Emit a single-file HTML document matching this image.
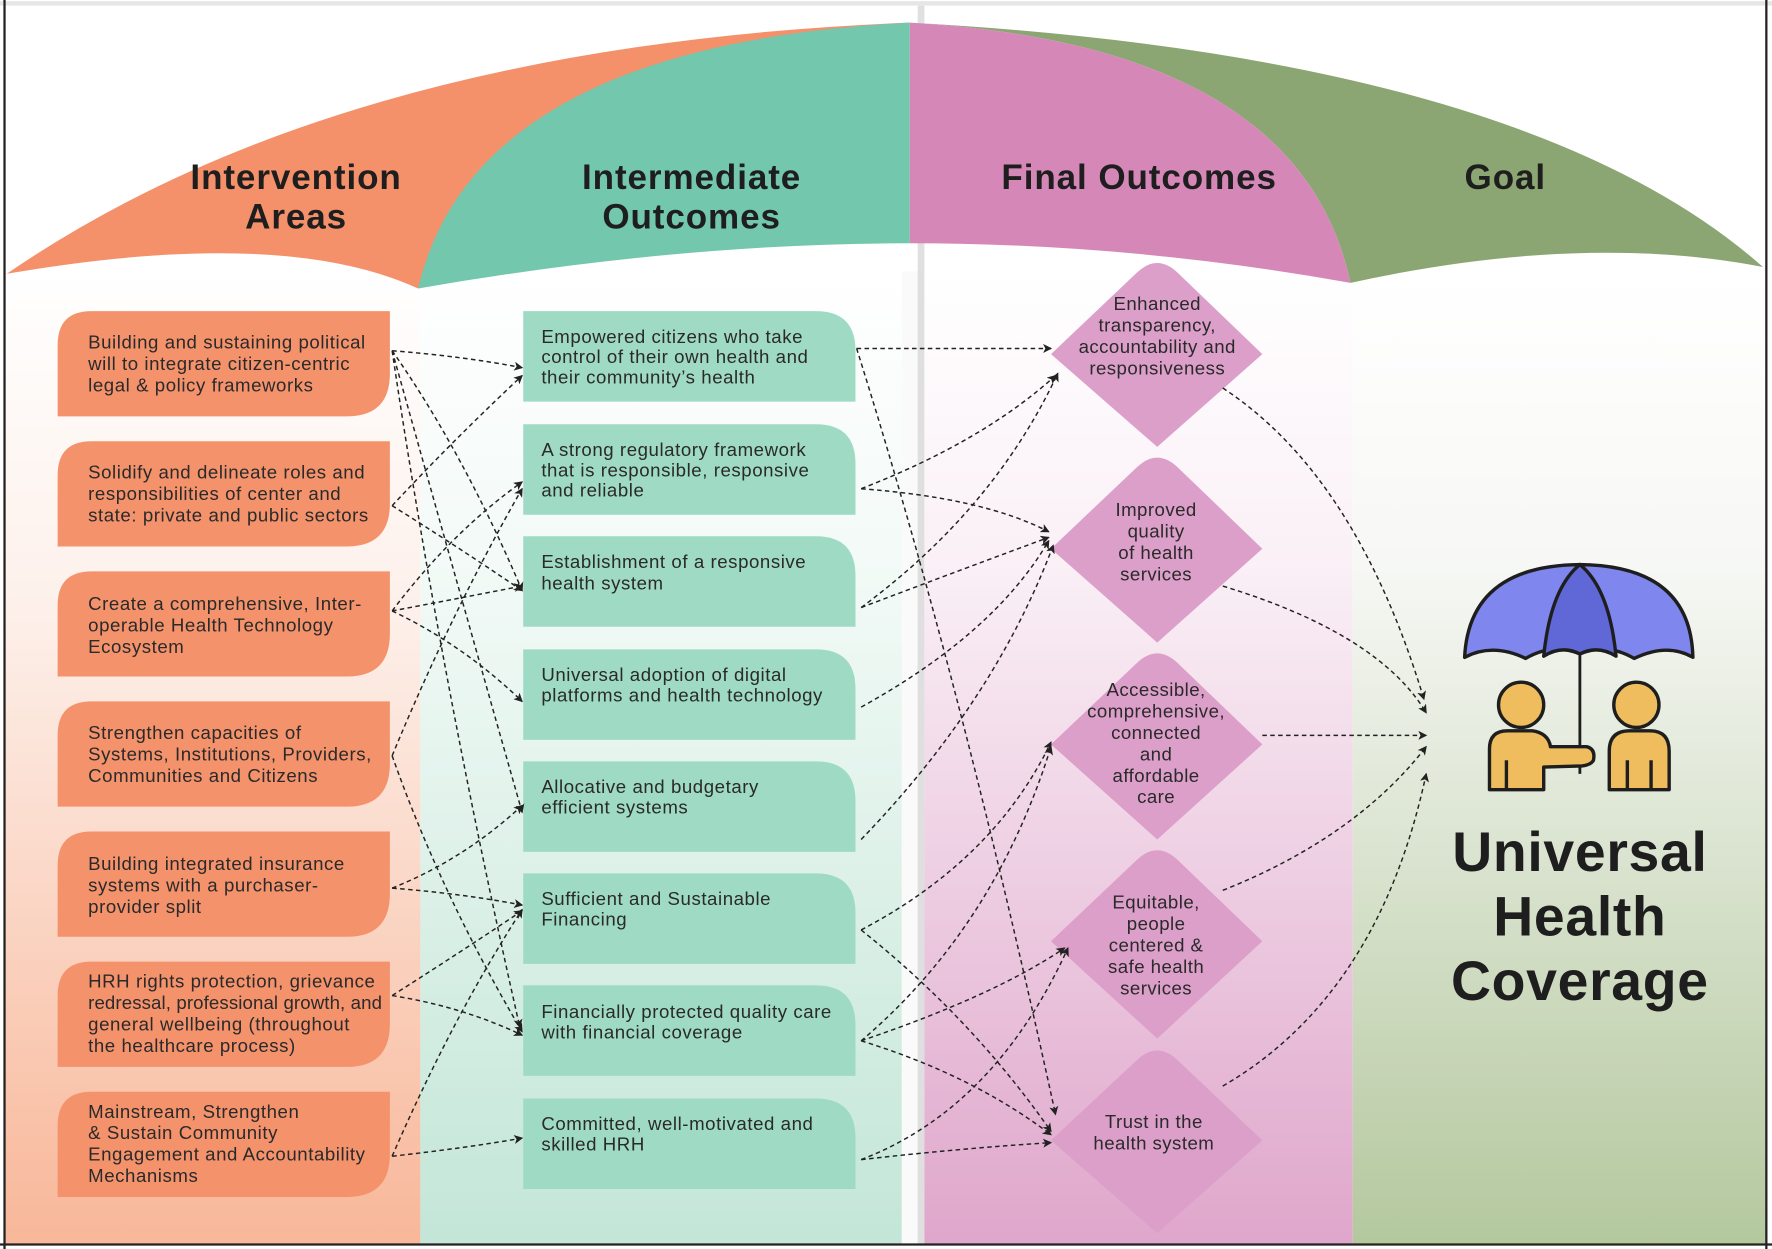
<!DOCTYPE html>
<html><head><meta charset="utf-8"><style>
html,body{margin:0;padding:0;background:#fff;}
svg{display:block;}
text{font-family:"Liberation Sans",sans-serif;}
</style></head><body>
<svg width="1772" height="1249" viewBox="0 0 1568 1104" preserveAspectRatio="none" xmlns="http://www.w3.org/2000/svg">
<defs>
<linearGradient id="gO" x1="0" y1="0" x2="0" y2="1"><stop offset="0" stop-color="#ffffff"/><stop offset="0.35" stop-color="#fdf0ea"/><stop offset="1" stop-color="#f8b799"/></linearGradient>
<linearGradient id="gT" x1="0" y1="0" x2="0" y2="1"><stop offset="0" stop-color="#ffffff"/><stop offset="0.3" stop-color="#f3faf7"/><stop offset="1" stop-color="#c3e6d8"/></linearGradient>
<linearGradient id="gP" x1="0" y1="0" x2="0" y2="1"><stop offset="0" stop-color="#ffffff"/><stop offset="0.3" stop-color="#faf0f6"/><stop offset="1" stop-color="#dfa6cb"/></linearGradient>
<linearGradient id="gG" x1="0" y1="0" x2="0" y2="1"><stop offset="0" stop-color="#ffffff"/><stop offset="0.3" stop-color="#f7f8f5"/><stop offset="1" stop-color="#b4c89e"/></linearGradient>
<marker id="ar" markerWidth="8" markerHeight="8" refX="7" refY="4" orient="auto" markerUnits="userSpaceOnUse"><path d="M0,0 L8,4 L0,8 L2,4 z" fill="#222"/></marker>
</defs>
<rect x="0" y="0" width="1568" height="1104" fill="#fff"/>
<rect x="4" y="240" width="368" height="860" fill="url(#gO)"/>
<rect x="372" y="240" width="426" height="860" fill="url(#gT)"/>
<rect x="798" y="240" width="20" height="860" fill="#fafafa"/>
<rect x="812" y="5" width="6" height="1095" fill="#d8d8d8" opacity="0.8"/>
<rect x="818" y="240" width="379" height="860" fill="url(#gP)"/>
<rect x="1197" y="240" width="366" height="860" fill="url(#gG)"/>
<!-- frame -->
<line x1="0" y1="3" x2="1568" y2="3" stroke="#e6e6e6" stroke-width="4"/>
<line x1="4" y1="0" x2="4" y2="1104" stroke="#222" stroke-width="2"/>
<line x1="1563" y1="0" x2="1563" y2="1104" stroke="#222" stroke-width="2"/>
<line x1="0" y1="1100" x2="1568" y2="1100" stroke="#222" stroke-width="2"/>
<!-- canopy -->
<path d="M805,20 Q1350,50 1560,236 Q1400,205 1195,250 Q1150,40 805,20 Z" fill="#8ba672"/>
<path d="M805,20 Q1150,40 1195,250 Q1000,215 805,215 Z" fill="#d588b8"/>
<path d="M6,242 Q300,40 805,20 L600,140 L370,255 Q250,200 6,242 Z" fill="#f4916b"/>
<path d="M370,255 Q420,40 805,20 L805,215 Q600,215 370,255 Z" fill="#72c7ad"/>
<g font-weight="bold" font-size="31" letter-spacing="0.8" fill="#1e1e1e" text-anchor="middle">
<text x="262" y="167">Intervention</text><text x="262" y="202">Areas</text>
<text x="612" y="167">Intermediate</text><text x="612" y="202">Outcomes</text>
<text x="1008" y="167">Final Outcomes</text>
<text x="1332" y="167">Goal</text>
</g>
<!-- orange boxes -->
<g fill="#f4926c">
<path d="M51,305 Q51,275 81,275 L345,275 L345,330 Q345,368 307,368 L51,368 Z"/>
<path d="M51,420 Q51,390 81,390 L345,390 L345,445 Q345,483 307,483 L51,483 Z"/>
<path d="M51,535 Q51,505 81,505 L345,505 L345,560 Q345,598 307,598 L51,598 Z"/>
<path d="M51,650 Q51,620 81,620 L345,620 L345,675 Q345,713 307,713 L51,713 Z"/>
<path d="M51,765 Q51,735 81,735 L345,735 L345,790 Q345,828 307,828 L51,828 Z"/>
<path d="M51,880 Q51,850 81,850 L345,850 L345,905 Q345,943 307,943 L51,943 Z"/>
<path d="M51,995 Q51,965 81,965 L345,965 L345,1020 Q345,1058 307,1058 L51,1058 Z"/>
</g>
<g font-size="16.5" letter-spacing="0.5" fill="#2a2a2a">
<text x="78" y="308">Building and sustaining political</text><text x="78" y="327">will to integrate citizen-centric</text><text x="78" y="346">legal &amp; policy frameworks</text>
<text x="78" y="423">Solidify and delineate roles and</text><text x="78" y="442">responsibilities of center and</text><text x="78" y="461">state: private and public sectors</text>
<text x="78" y="539">Create a comprehensive, Inter-</text><text x="78" y="558">operable Health Technology</text><text x="78" y="577">Ecosystem</text>
<text x="78" y="653">Strengthen capacities of</text><text x="78" y="672">Systems, Institutions, Providers,</text><text x="78" y="691">Communities and Citizens</text>
<text x="78" y="769">Building integrated insurance</text><text x="78" y="788">systems with a purchaser-</text><text x="78" y="807">provider split</text>
<text x="78" y="873">HRH rights protection, grievance</text><text x="78" y="892" letter-spacing="0.1">redressal, professional growth, and</text><text x="78" y="911">general wellbeing (throughout</text><text x="78" y="930">the healthcare process)</text>
<text x="78" y="988">Mainstream, Strengthen</text><text x="78" y="1007">&amp; Sustain Community</text><text x="78" y="1026">Engagement and Accountability</text><text x="78" y="1045">Mechanisms</text>
</g>
<!-- teal boxes -->
<g fill="#9fdac4">
<path d="M463,275 L722,275 Q757,275 757,310 L757,355 L463,355 Z"/>
<path d="M463,375 L722,375 Q757,375 757,410 L757,455 L463,455 Z"/>
<path d="M463,474 L722,474 Q757,474 757,509 L757,554 L463,554 Z"/>
<path d="M463,574 L722,574 Q757,574 757,609 L757,654 L463,654 Z"/>
<path d="M463,673 L722,673 Q757,673 757,708 L757,753 L463,753 Z"/>
<path d="M463,772 L722,772 Q757,772 757,807 L757,852 L463,852 Z"/>
<path d="M463,871 L722,871 Q757,871 757,906 L757,951 L463,951 Z"/>
<path d="M463,971 L722,971 Q757,971 757,1006 L757,1051 L463,1051 Z"/>
</g>
<g font-size="16.5" letter-spacing="0.5" fill="#2a2a2a">
<text x="479" y="303">Empowered citizens who take</text><text x="479" y="321">control of their own health and</text><text x="479" y="339">their community’s health</text>
<text x="479" y="403">A strong regulatory framework</text><text x="479" y="421">that is responsible, responsive</text><text x="479" y="439">and reliable</text>
<text x="479" y="502">Establishment of a responsive</text><text x="479" y="521">health system</text>
<text x="479" y="602">Universal adoption of digital</text><text x="479" y="620">platforms and health technology</text>
<text x="479" y="701">Allocative and budgetary</text><text x="479" y="719">efficient systems</text>
<text x="479" y="800">Sufficient and Sustainable</text><text x="479" y="818">Financing</text>
<text x="479" y="900">Financially protected quality care</text><text x="479" y="918">with financial coverage</text>
<text x="479" y="999">Committed, well-motivated and</text><text x="479" y="1017">skilled HRH</text>
</g>
<!-- diamonds -->
<g fill="#dc9fc9">
<path d="M1006,241 Q1024,224 1042,241 L1117,313 L1024,395 L930,313 Z"/>
<path d="M1006,413 Q1024,396 1042,413 L1117,485 L1024,568 L930,485 Z"/>
<path d="M1006,586 Q1024,569 1042,586 L1117,658 L1024,742 L930,658 Z"/>
<path d="M1006,760 Q1024,743 1042,760 L1117,832 L1024,918 L930,832 Z"/>
<path d="M1006,937 Q1024,920 1042,937 L1117,1008 L1024,1090 L930,1008 Z"/>
</g>
<g font-size="16.5" letter-spacing="0.4" fill="#2a2a2a" text-anchor="middle">
<text x="1024" y="274">Enhanced</text><text x="1024" y="293">transparency,</text><text x="1024" y="312">accountability and</text><text x="1024" y="331">responsiveness</text>
<text x="1023" y="456">Improved</text><text x="1023" y="475">quality</text><text x="1023" y="494">of health</text><text x="1023" y="513">services</text>
<text x="1023" y="615">Accessible,</text><text x="1023" y="634">comprehensive,</text><text x="1023" y="653">connected</text><text x="1023" y="672">and</text><text x="1023" y="691">affordable</text><text x="1023" y="710">care</text>
<text x="1023" y="803">Equitable,</text><text x="1023" y="822">people</text><text x="1023" y="841">centered &amp;</text><text x="1023" y="860">safe health</text><text x="1023" y="879">services</text>
<text x="1021" y="997">Trust in the</text><text x="1021" y="1016">health system</text>
</g>
<!-- arrows -->
<g fill="none" stroke="#222" stroke-width="1.3" stroke-dasharray="4,3" marker-end="url(#ar)">
<path d="M347,310 Q410,315 462,325"/>
<path d="M347,310 Q410,400 462,522"/>
<path d="M347,310 Q400,500 462,718"/>
<path d="M347,310 Q390,600 460,908"/>
<path d="M347,447 Q400,390 462,332"/>
<path d="M347,447 Q400,480 462,522"/>
<path d="M347,540 Q400,470 462,426"/>
<path d="M347,540 Q400,530 462,518"/>
<path d="M347,540 Q410,570 462,620"/>
<path d="M347,668 Q400,540 462,432"/>
<path d="M347,668 Q390,790 462,912"/>
<path d="M347,785 Q410,760 462,712"/>
<path d="M347,785 Q410,790 462,800"/>
<path d="M347,880 Q410,840 462,805"/>
<path d="M347,880 Q410,890 462,915"/>
<path d="M347,1022 Q400,900 462,804"/>
<path d="M347,1022 Q410,1015 462,1006"/>
<path d="M758,308 L930,308"/>
<path d="M758,308 Q850,600 934,985"/>
<path d="M762,432 Q870,390 934,332"/>
<path d="M762,432 Q870,440 928,470"/>
<path d="M762,537 Q880,450 936,330"/>
<path d="M762,537 Q860,500 928,475"/>
<path d="M762,625 Q880,560 928,478"/>
<path d="M762,742 Q880,620 932,482"/>
<path d="M762,822 Q880,760 930,656"/>
<path d="M762,822 Q860,900 930,1000"/>
<path d="M762,920 Q880,820 930,660"/>
<path d="M762,920 Q880,880 942,838"/>
<path d="M762,920 Q860,950 930,1003"/>
<path d="M762,1025 Q880,980 945,838"/>
<path d="M762,1025 Q850,1015 930,1010"/>
<path d="M1082,343 Q1200,420 1260,618"/>
<path d="M1082,518 Q1220,560 1262,630"/>
<path d="M1117,650 L1262,650"/>
<path d="M1082,787 Q1200,740 1262,660"/>
<path d="M1082,960 Q1220,880 1262,684"/>
</g>
<!-- umbrella icon -->
<g stroke="#1e1e1e" stroke-width="3" stroke-linejoin="round">
<line x1="1398" y1="575" x2="1398" y2="684" stroke-width="2.5"/>
<path d="M1296,581 Q1300,500 1398,499 Q1496,500 1498,581 Q1475,568 1446,582 Q1422,568 1398,578 Q1374,568 1350,582 Q1321,568 1296,581 Z" fill="#7f86ee"/>
<path d="M1398,499 Q1424,520 1430,580 Q1414,570 1398,578 Q1382,570 1366,580 Q1372,520 1398,499 Z" fill="#5f68d6"/>
<circle cx="1346" cy="623" r="20" fill="#efbd5e"/>
<circle cx="1448" cy="623" r="20" fill="#efbd5e"/>
<path d="M1318,698 L1318,662 Q1318,646 1334,646 L1356,646 Q1370,648 1372,660 L1404,660 Q1412,662 1410,672 Q1408,676 1400,677 L1366,678 L1366,698 Z" fill="#efbd5e"/>
<path d="M1424,698 L1424,664 Q1424,646 1442,646 L1460,646 Q1477,646 1477,664 L1477,698 Z" fill="#efbd5e"/>
<line x1="1333" y1="672" x2="1333" y2="698"/>
<line x1="1440" y1="672" x2="1440" y2="698"/>
<line x1="1461" y1="672" x2="1461" y2="698"/>
</g>
<g font-weight="bold" font-size="49" letter-spacing="0.6" fill="#1e1e1e" text-anchor="middle">
<text x="1398" y="770">Universal</text>
<text x="1398" y="827">Health</text>
<text x="1398" y="884">Coverage</text>
</g>
</svg>
</body></html>
